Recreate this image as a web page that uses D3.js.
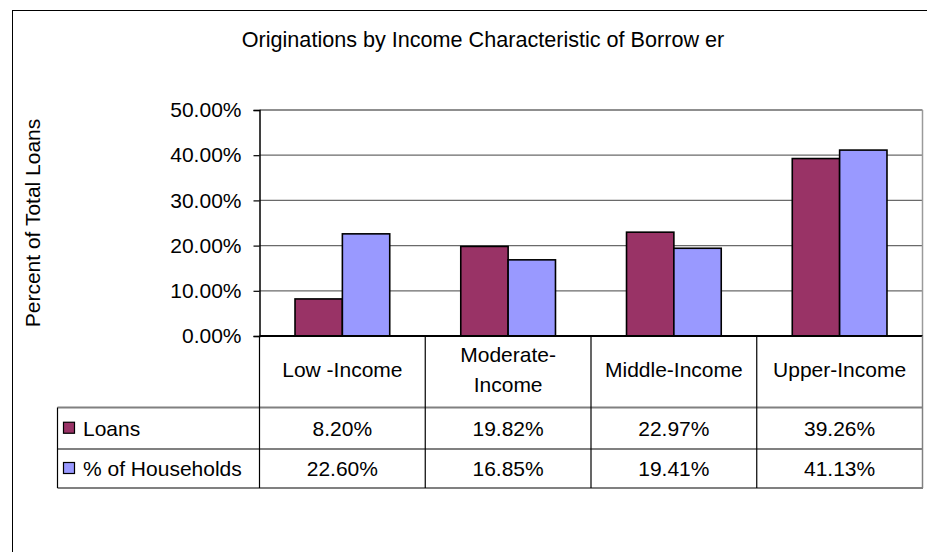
<!DOCTYPE html>
<html>
<head>
<meta charset="utf-8">
<script src="https://cdn.jsdelivr.net/npm/d3@7"></script>
<style>
  html, body { margin: 0; padding: 0; background: #fff; }
  svg { display: block; font-family: "Liberation Sans", Arial, sans-serif; }
</style>
</head>
<body>
<svg id="chart" width="927" height="552"></svg>
<script>
// Data
const categories = ["Low -Income", "Moderate-\nIncome", "Middle-Income", "Upper-Income"];
const seriesNames = ["Loans", "% of Households"];
const loans = [0.0820, 0.1982, 0.2297, 0.3926];
const households = [0.2260, 0.1685, 0.1941, 0.4113];
const seriesColors = ["#993366", "#9999FF"];
const yTicks = [0, 0.1, 0.2, 0.3, 0.4, 0.5];
const titleText = "Originations by Income Characteristic of Borrow er";
const yLabel = "Percent of Total Loans";

const seriesValues = [loans, households];

const svg = d3.select("#chart");
const FS = 21;

// Outer chart frame (extends past the right and bottom edges)
svg.append("rect")
  .attr("x", 12.5).attr("y", 10.5)
  .attr("width", 1000).attr("height", 1000)
  .attr("fill", "#fff").attr("stroke", "#000").attr("stroke-width", 1);

// Title
svg.append("text")
  .attr("x", 483).attr("y", 47)
  .attr("text-anchor", "middle")
  .attr("font-size", 21.6)
  .attr("fill", "#000")
  .text(titleText);

// Plot area geometry
const plot = { left: 259.5, right: 922.5, top: 110, bottom: 336 };

const x0 = d3.scaleBand()
  .domain(categories)
  .range([plot.left, plot.right])
  .paddingInner(0).paddingOuter(0);

const x1 = d3.scaleBand()
  .domain(seriesNames)
  .range([0, x0.bandwidth()])
  .paddingInner(0).paddingOuter(0.75);

const y = d3.scaleLinear()
  .domain([0, 0.5])
  .range([plot.bottom, plot.top]);

// Gridlines
svg.append("g")
  .selectAll("line")
  .data(yTicks.filter(d => d > 0))
  .join("line")
  .attr("x1", plot.left).attr("x2", plot.right)
  .attr("y1", d => y(d)).attr("y2", d => y(d))
  .attr("stroke", "#6a6a6a").attr("stroke-width", 1.3);

// Plot area right border
svg.append("line")
  .attr("x1", plot.right).attr("x2", plot.right)
  .attr("y1", plot.top).attr("y2", plot.bottom)
  .attr("stroke", "#9a9a9a").attr("stroke-width", 1.5);

// Bars
const groups = svg.append("g")
  .selectAll("g")
  .data(categories)
  .join("g")
  .attr("transform", d => `translate(${x0(d)},0)`);

groups.selectAll("rect")
  .data((d, i) => seriesNames.map((s, j) => ({ s, v: seriesValues[j][i], c: seriesColors[j] })))
  .join("rect")
  .attr("x", d => x1(d.s))
  .attr("y", d => y(d.v))
  .attr("width", x1.bandwidth())
  .attr("height", d => y(0) - y(d.v))
  .attr("fill", d => d.c)
  .attr("stroke", "#000")
  .attr("stroke-width", 1.6);

// Y axis
const yAxis = d3.axisLeft(y)
  .tickValues(yTicks)
  .tickFormat(d3.format(".2%"))
  .tickSize(6)
  .tickPadding(12);

const yg = svg.append("g")
  .attr("transform", `translate(${plot.left},0)`)
  .call(yAxis);
yg.select(".domain").attr("stroke", "#000").attr("stroke-width", 1.5);
yg.selectAll(".tick line").attr("stroke", "#000").attr("stroke-width", 1.2);
yg.selectAll(".tick text")
  .attr("font-size", FS)
  .attr("font-family", "Liberation Sans, Arial, sans-serif")
  .attr("fill", "#000");

// Zero line
svg.append("line")
  .attr("x1", plot.left).attr("x2", plot.right)
  .attr("y1", y(0)).attr("y2", y(0))
  .attr("stroke", "#000").attr("stroke-width", 2);

// Y axis title
svg.append("text")
  .attr("transform", `translate(40,${(plot.top + plot.bottom) / 2}) rotate(-90)`)
  .attr("text-anchor", "middle")
  .attr("font-size", FS)
  .attr("fill", "#000")
  .text(yLabel);

// Data table
const table = { left: 57.5, headerBottom: 407.5, row1: 449, row2: 488 };
const rowTops = [table.headerBottom, table.row1];
const rowBottoms = [table.row1, table.row2];

// Horizontal rules (grey)
[table.headerBottom, table.row1, table.row2].forEach(yy => {
  svg.append("line")
    .attr("x1", table.left).attr("x2", plot.right + 0.5)
    .attr("y1", yy).attr("y2", yy)
    .attr("stroke", "#808080").attr("stroke-width", 2);
});

// Left edge of legend column
svg.append("line")
  .attr("x1", table.left).attr("x2", table.left)
  .attr("y1", table.headerBottom).attr("y2", table.row2)
  .attr("stroke", "#000").attr("stroke-width", 1.2);

// Vertical dividers between categories
const dividers = [plot.left].concat(categories.map(c => x0(c) + x0.bandwidth()));
svg.append("g")
  .selectAll("line")
  .data(dividers)
  .join("line")
  .attr("x1", d => d).attr("x2", d => d)
  .attr("y1", plot.bottom).attr("y2", table.row2)
  .attr("stroke", (d, i) => i === dividers.length - 1 ? "#808080" : "#000")
  .attr("stroke-width", (d, i) => i === dividers.length - 1 ? 1.5 : 1.2);

// Category header labels
const headerMid = 369;
categories.forEach(c => {
  const lines = c.split("\n");
  const t = svg.append("text")
    .attr("text-anchor", "middle")
    .attr("font-size", FS)
    .attr("fill", "#000");
  const lh = 30;
  lines.forEach((ln, k) => {
    t.append("tspan")
      .attr("x", x0(c) + x0.bandwidth() / 2)
      .attr("y", headerMid + (k - (lines.length - 1) / 2) * lh)
      .attr("dy", "0.36em")
      .text(ln);
  });
});

// Table rows: legend key + name + values
seriesNames.forEach((s, j) => {
  const mid = (rowTops[j] + rowBottoms[j]) / 2;
  svg.append("rect")
    .attr("x", 63.5).attr("y", mid - 6)
    .attr("width", 11).attr("height", 11)
    .attr("fill", seriesColors[j])
    .attr("stroke", "#000").attr("stroke-width", 1.2);
  svg.append("text")
    .attr("x", 83).attr("y", mid)
    .attr("dy", "0.36em")
    .attr("font-size", FS)
    .attr("fill", "#000")
    .text(s);
  categories.forEach((c, i) => {
    svg.append("text")
      .attr("x", x0(c) + x0.bandwidth() / 2)
      .attr("y", mid)
      .attr("dy", "0.36em")
      .attr("text-anchor", "middle")
      .attr("font-size", FS)
      .attr("fill", "#000")
      .text(d3.format(".2%")(seriesValues[j][i]));
  });
});
</script>
</body>
</html>
